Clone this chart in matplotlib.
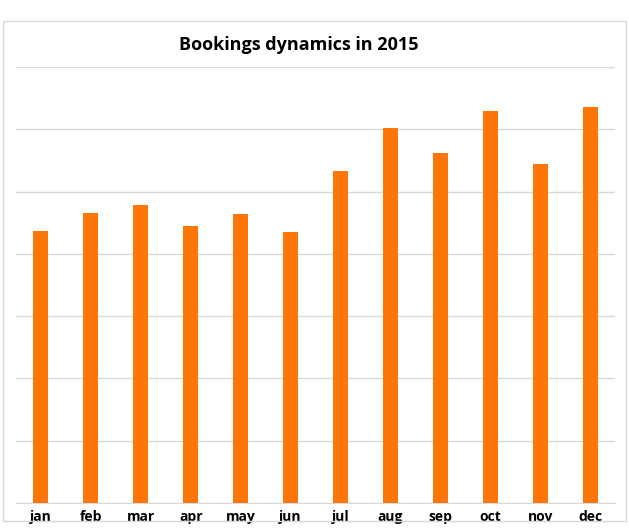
import matplotlib
matplotlib.use("Agg")
import matplotlib.pyplot as plt
from matplotlib.patches import Rectangle

# monthly bookings (no y labels in the original, values read on a 0-70 grid)
months = ["jan", "feb", "mar", "apr", "may", "jun",
          "jul", "aug", "sep", "oct", "nov", "dec"]
bookings = [43.7, 46.5, 47.8, 44.5, 46.4, 43.5,
            53.3, 60.2, 56.2, 62.9, 54.4, 63.6]

fig = plt.figure(figsize=(6.29, 5.29), dpi=100)
fig.patches.append(Rectangle((3 / 629, 1 - 521 / 529), 623 / 629, 500 / 529,
                             transform=fig.transFigure, fill=False,
                             edgecolor="#d9d9d9", linewidth=1))

ax = fig.add_axes([16 / 629, 1 - 503 / 529, 599 / 629, 436 / 529])
x = range(len(months))
ax.bar(x, bookings, width=0.3, color="#FE7608", zorder=3)

ax.set_xlim(-0.5, len(months) - 0.5)
ax.set_ylim(0, 70)
ax.set_yticks(range(0, 71, 10))
ax.yaxis.grid(True, color="#d9d9d9", linewidth=1, zorder=0)
ax.tick_params(axis="y", left=False, labelleft=False)
ax.tick_params(axis="x", length=0, pad=5)
ax.set_xticks(list(x))
ax.set_xticklabels(months, fontsize=10, fontweight="bold", family="Open Sans")
for s in ["top", "left", "right"]:
    ax.spines[s].set_visible(False)
ax.spines["bottom"].set_color("#d9d9d9")

fig.text(0.475, 1 - 45 / 529, "Bookings dynamics in 2015", ha="center", va="center",
         fontsize=13, fontweight="bold", family="Open Sans")

fig.savefig("out.png", dpi=100)
